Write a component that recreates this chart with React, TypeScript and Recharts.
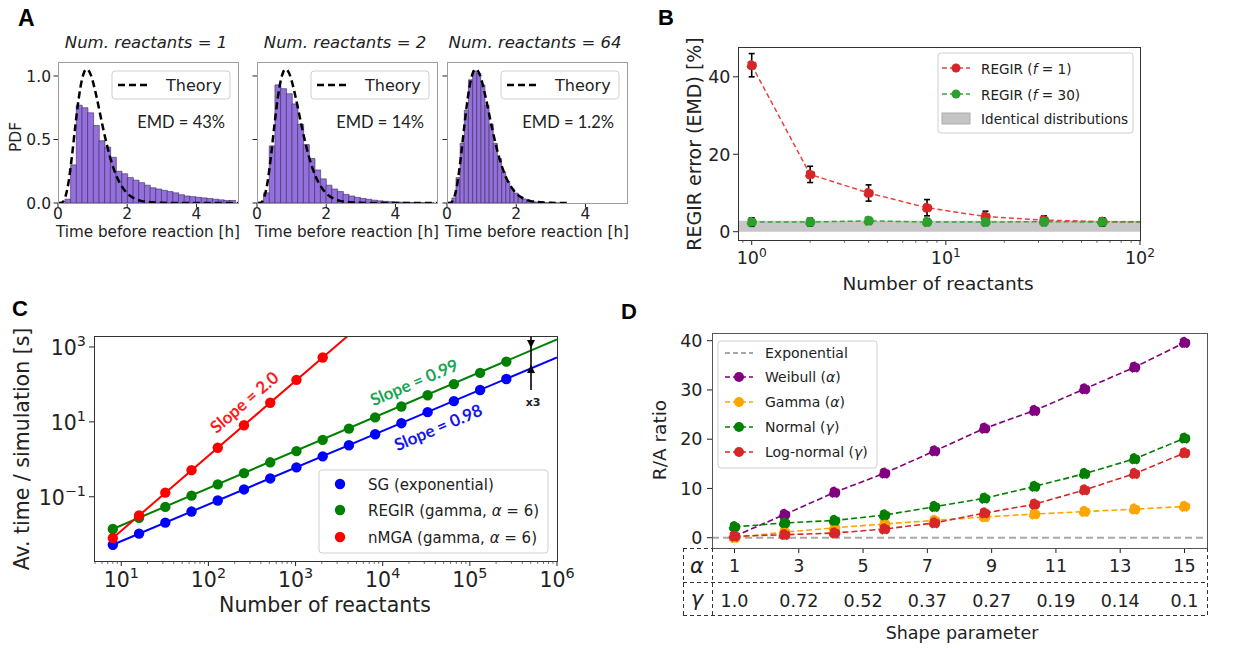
import React from "react";
import {
  BarChart,
  Bar,
  LineChart,
  Line,
  ScatterChart,
  Scatter,
  XAxis,
  YAxis,
  ErrorBar,
  ReferenceArea,
  ReferenceLine,
} from "recharts";

// ---------- Panel A: histograms of waiting times ----------
const binsN1 = [0.282, 0.446, 0.61, 0.774, 0.938, 1.102, 1.266, 1.43, 1.594, 1.758, 1.922, 2.086, 2.25, 2.414, 2.578, 2.742, 2.906, 3.07, 3.234, 3.398, 3.562, 3.726, 3.89, 4.054, 4.218, 4.382, 4.546, 4.71, 4.874, 5.038];
const pdfN1 = [0.03, 0.3, 0.77, 0.75, 0.71, 0.61, 0.49, 0.44, 0.36, 0.25, 0.23, 0.2, 0.18, 0.16, 0.14, 0.12, 0.11, 0.1, 0.09, 0.08, 0.065, 0.055, 0.05, 0.045, 0.04, 0.035, 0.03, 0.025, 0.02, 0.02];
const binsN2 = [0.272, 0.436, 0.6, 0.764, 0.928, 1.092, 1.256, 1.42, 1.584, 1.748, 1.912, 2.076, 2.24, 2.404, 2.568, 2.732, 2.896, 3.06, 3.224, 3.388, 3.552, 3.716, 3.88, 4.044, 4.208, 4.372, 4.536, 4.7, 4.864, 5.028];
const pdfN2 = [0.08, 0.45, 0.93, 0.9, 0.86, 0.78, 0.62, 0.46, 0.35, 0.26, 0.19, 0.14, 0.11, 0.09, 0.068, 0.055, 0.044, 0.036, 0.029, 0.022, 0.017, 0.013, 0.01, 0.008, 0.006, 0.005, 0.004, 0.003, 0.002, 0.002];
const binsN64 = [0.2, 0.32, 0.44, 0.56, 0.68, 0.8, 0.92, 1.04, 1.16, 1.28, 1.4, 1.52, 1.64, 1.76, 1.88, 2.0, 2.12, 2.24, 2.36, 2.48, 2.6, 2.72, 2.84, 2.96, 3.08, 3.2, 3.32];
const pdfN64 = [0.04, 0.2, 0.47, 0.73, 0.97, 1.04, 1.02, 0.93, 0.77, 0.62, 0.47, 0.35, 0.245, 0.17, 0.115, 0.078, 0.05, 0.032, 0.02, 0.013, 0.008, 0.005, 0.003, 0.002, 0.001, 0.0006, 0.0004];
const theoryT = [0, 0.1, 0.2, 0.3, 0.4, 0.5, 0.6, 0.65, 0.7, 0.75, 0.8, 0.85, 0.9, 0.95, 1.0, 1.1, 1.2, 1.3, 1.4, 1.5, 1.6, 1.7, 1.8, 1.9, 2.0, 2.2, 2.4, 2.6, 2.8, 3.0, 3.5, 4.0, 4.5, 5.0, 5.2];
const theoryPdf = [0, 0.002, 0.038, 0.156, 0.361, 0.605, 0.826, 0.913, 0.98, 1.025, 1.049, 1.052, 1.037, 1.007, 0.964, 0.852, 0.723, 0.592, 0.471, 0.364, 0.276, 0.205, 0.15, 0.108, 0.076, 0.037, 0.017, 0.008, 0.003, 0.0014, 0.0002, 0, 0, 0, 0];
const histTitles = ["Num. reactants = 1", "Num. reactants = 2", "Num. reactants = 64"];
const emdLabels = ["EMD = 43%", "EMD = 14%", "EMD = 1.2%"];

// ---------- Panel B: REGIR error vs number of reactants ----------
const reactantsB = [1, 2, 4, 8, 16, 32, 64, 128];
const regirF1 = [43, 14.8, 10, 6.2, 3.9, 3.0, 2.6, 2.6];
const regirF1Err = [3, 2.1, 2.1, 2.1, 1.4, 1.1, 1.0, null];
const regirF30 = [2.5, 2.5, 2.8, 2.5, 2.5, 2.6, 2.5, 2.5];
const regirF30Err = [1.1, 1.0, 0.9, 0.9, 0.9, 1.0, 1.0, null];
const identicalBand = [0, 2.8];

// ---------- Panel C: run time scaling ----------
const reactantsC = [8, 16, 32, 64, 128, 256, 512, 1024, 2048, 4096, 8192, 16384, 32768, 65536, 131072, 262144];
const timeSG = [0.00525, 0.0104, 0.0204, 0.0403, 0.0794, 0.157, 0.309, 0.61, 1.2, 2.37, 4.68, 9.23, 18.2, 35.9, 70.8, 140];
const timeREGIR = [0.0138, 0.0275, 0.0537, 0.107, 0.214, 0.427, 0.832, 1.66, 3.31, 6.61, 13.2, 25.7, 51.3, 102, 204, 407];
const reactantsNMGA = [8, 16, 32, 64, 128, 256, 512, 1024, 2048];
const timeNMGA = [0.0079, 0.0316, 0.129, 0.513, 2.04, 8.13, 32.4, 132, 525];
const fitSGx = [8, 1000000];
const fitSGy = [0.00525, 525];
const fitREGIRx = [8, 1000000];
const fitREGIRy = [0.0138, 1600];
const fitNMGAx = [8, 3963];
const fitNMGAy = [0.0079, 1963];

// ---------- Panel D: R/A ratio vs shape parameter ----------
const shapeX = [1, 2.556, 4.111, 5.667, 7.222, 8.778, 10.333, 11.889, 13.444, 15];
const weibull = [0.3, 4.7, 9.2, 13.1, 17.6, 22.2, 25.8, 30.2, 34.6, 39.6];
const gammaR = [0.0, 1.15, 2.0, 2.8, 3.5, 4.2, 4.8, 5.3, 5.8, 6.35];
const normalR = [2.2, 3.0, 3.5, 4.6, 6.3, 8.0, 10.4, 13.0, 16.0, 20.2];
const lognormalR = [0.3, 0.6, 0.95, 1.75, 3.0, 5.0, 6.8, 9.7, 13.0, 17.2];
const alphaTicks = [1, 3, 5, 7, 9, 11, 13, 15];
const gammaTicks = ["1.0", "0.72", "0.52", "0.37", "0.27", "0.19", "0.14", "0.1"];

const INK = "#222";
const DJ = "'DejaVu Sans', Verdana, sans-serif";
const ARIAL = "'Liberation Sans', Arial, sans-serif";
const CAL = "Lato, 'Open Sans', sans-serif";

const isDecade = (v: number) => {
  const l = Math.log10(v);
  return Math.abs(l - Math.round(l)) < 1e-6;
};
const expOf = (v: number) => {
  const e = Math.round(Math.log10(v));
  return e < 0 ? `\u2212${-e}` : `${e}`;
};
const pow10 = (v: number, fs: number) => [
  <tspan key="b">10</tspan>,
  <tspan key="e" dy={-fs * 0.42} fontSize={fs * 0.7}>
    {expOf(v)}
  </tspan>,
];

// log axis tick positions (major + minor)
function logTicks(lo: number, hi: number) {
  const out: number[] = [];
  for (let e = Math.floor(Math.log10(lo)); e <= Math.ceil(Math.log10(hi)); e++) {
    for (let m = 1; m < 10; m++) {
      const v = m * Math.pow(10, e);
      if (v >= lo * 0.999 && v <= hi * 1.001) out.push(v);
    }
  }
  return out;
}

type BT = { fs: number; base: number; len?: number; log?: boolean };
const bottomTick = (o: BT) => (p: any) => {
  const { x, y, payload } = p;
  const v = payload.value as number;
  const minor = o.log ? !isDecade(v) : false;
  const len = minor ? 2.8 : o.len ?? 5;
  return (
    <g>
      <line x1={x} x2={x} y1={y} y2={y + len} stroke={INK} strokeWidth={minor ? 0.7 : 1} />
      {!minor && (
        <text x={x} y={y + o.base} textAnchor="middle" fontSize={o.fs} fontFamily={DJ} fill={INK}>
          {o.log ? pow10(v, o.fs) : String(v)}
        </text>
      )}
    </g>
  );
};

type LT = { fs: number; gap: number; len: number; dy: number; fmt?: ((v: number) => any) | null };
const leftTick = (o: LT) => (p: any) => {
  const { x, y, payload } = p;
  const v = payload.value as number;
  return (
    <g>
      <line x1={x - o.len} x2={x} y1={y} y2={y} stroke={INK} strokeWidth={1} />
      {o.fmt && (
        <text x={x - o.len - o.gap} y={y + o.dy} textAnchor="end" fontSize={o.fs} fontFamily={DJ} fill={INK}>
          {o.fmt(v)}
        </text>
      )}
    </g>
  );
};

const tickAX = bottomTick({ fs: 15.5, base: 16, len: 4.5 });
const tickAY = leftTick({ fs: 15.5, gap: 2.5, len: 4.5, dy: 5.7, fmt: (v) => v.toFixed(1) });
const tickAYBlank = leftTick({ fs: 15.5, gap: 2.5, len: 4.5, dy: 5.7, fmt: null });
const tickBX = bottomTick({ fs: 17.5, base: 24, log: true });
const tickBY = leftTick({ fs: 17.5, gap: 2.5, len: 5, dy: 6.5, fmt: (v) => String(v) });
const tickCX = bottomTick({ fs: 20.5, base: 26, log: true });
const tickCY = leftTick({ fs: 20.5, gap: 3, len: 5, dy: 8, fmt: (v) => pow10(v, 20.5) });
const tickDY = leftTick({ fs: 17.5, gap: 4.5, len: 5, dy: 6.3, fmt: (v) => String(v) });
const tickDX = (p: any) => {
  const { x, y, payload } = p;
  const i = alphaTicks.indexOf(payload.value);
  return (
    <g>
      <line x1={x} x2={x} y1={y} y2={y + 5} stroke={INK} strokeWidth={1} />
      <text x={x} y={y + 23.7} textAnchor="middle" fontSize={17.5} fontFamily={DJ} fill={INK}>
        {payload.value}
      </text>
      <text x={x} y={y + 58.7} textAnchor="middle" fontSize={17.5} fontFamily={DJ} fill={INK}>
        {gammaTicks[i]}
      </text>
    </g>
  );
};

const axisOff = { axisLine: false, tickLine: false, tickSize: 0, tickMargin: 0, interval: 0 as const };

// ---------- Panel A ----------
const A_X0 = [58, 257, 447];
const A_TOP = 62;
const A_W = 180;
const A_H = 141;
const A_DOMX: [number, number] = [0, 5.2];
const A_DOMY: [number, number] = [0, 1.11];

function HistPanel({ x0, bins, pdf, theoryEnd, yLabels }: { x0: number; bins: number[]; pdf: number[]; theoryEnd: number; yLabels: boolean }) {
  const L = 45, T = 4, R = 4, B = 26;
  const data = bins.map((x, i) => ({ x, h: pdf[i] }));
  const curve = theoryT.map((t, i) => ({ t, p: theoryPdf[i] })).filter((d) => d.t <= theoryEnd);
  const w = A_W + L + R;
  const h = A_H + T + B;
  return (
    <>
      <div style={{ position: "absolute", left: x0 - L, top: A_TOP - T }}>
        <BarChart width={w} height={h} data={data} margin={{ top: T, right: R, left: 0, bottom: 0 }} barCategoryGap={0} barGap={0}>
          <XAxis type="number" dataKey="x" domain={A_DOMX} ticks={[0, 2, 4]} allowDataOverflow height={B} {...axisOff} tick={tickAX} />
          <YAxis type="number" domain={A_DOMY} ticks={[0, 0.5, 1]} allowDataOverflow width={L} {...axisOff} tick={yLabels ? tickAY : tickAYBlank} />
          <Bar dataKey="h" fill="#9370db" stroke="#3b2a5c" strokeWidth={0.6} isAnimationActive={false} />
        </BarChart>
      </div>
      <div style={{ position: "absolute", left: x0 - L, top: A_TOP - T }}>
        <LineChart width={w} height={h} data={curve} margin={{ top: T, right: R, left: L, bottom: B }}>
          <XAxis type="number" dataKey="t" domain={A_DOMX} allowDataOverflow hide />
          <YAxis type="number" domain={A_DOMY} allowDataOverflow hide />
          <Line dataKey="p" type="monotone" stroke="#000" strokeWidth={2.5} strokeDasharray="7 4" dot={false} isAnimationActive={false} />
        </LineChart>
      </div>
    </>
  );
}

// ---------- Panel B ----------
function PanelB() {
  const L = 50, T = 4, R = 24, B = 32;
  const data = reactantsB.map((x, i) => ({ x, f1: regirF1[i], f1Err: regirF1Err[i], f30: regirF30[i], f30Err: regirF30Err[i] }));
  return (
    <div style={{ position: "absolute", left: 738 - L, top: 47 - T }}>
      <LineChart width={402 + L + R} height={193 + T + B} data={data} margin={{ top: T, right: R, left: 0, bottom: 0 }}>
        <XAxis type="number" dataKey="x" scale="log" domain={[0.85, 100]} allowDataOverflow ticks={logTicks(0.85, 100)} height={B} {...axisOff} tick={tickBX} />
        <YAxis type="number" domain={[-2.14, 47.7]} allowDataOverflow ticks={[0, 20, 40]} width={L} {...axisOff} tick={tickBY} />
        <ReferenceArea x1={0.85} x2={100} y1={identicalBand[0]} y2={identicalBand[1]} fill="#bdbdbd" fillOpacity={0.85} stroke="none" />
        <Line dataKey="f1" stroke="#e8413f" strokeWidth={1.5} strokeDasharray="5 3" dot={{ r: 4.5, fill: "#d62728", stroke: "#d62728" }} activeDot={false} isAnimationActive={false}>
          <ErrorBar dataKey="f1Err" width={3} stroke="#000" strokeWidth={1.6} direction="y" />
        </Line>
        <Line dataKey="f30" stroke="#3aa43a" strokeWidth={1.5} strokeDasharray="5 3" dot={{ r: 4.5, fill: "#2ca02c", stroke: "#2ca02c" }} activeDot={false} isAnimationActive={false}>
          <ErrorBar dataKey="f30Err" width={3} stroke="#000" strokeWidth={1.6} direction="y" />
        </Line>
      </LineChart>
    </div>
  );
}

// ---------- Panel C ----------
const noShape = () => <g />;
const dotShape = (color: string) => (p: any) => <circle cx={p.cx} cy={p.cy} r={5.2} fill={color} />;

function PanelC() {
  const L = 70, T = 4, R = 24, B = 32;
  const pts = (xs: number[], ys: number[]) => xs.map((x, i) => ({ x, y: ys[i] }));
  return (
    <div style={{ position: "absolute", left: 94 - L, top: 336 - T }}>
      <ScatterChart width={463 + L + R} height={225 + T + B} margin={{ top: T, right: R, left: 0, bottom: 0 }}>
        <XAxis type="number" dataKey="x" scale="log" domain={[4.864, 1000000]} allowDataOverflow ticks={logTicks(4.864, 1000000)} height={B} {...axisOff} tick={tickCX} />
        <YAxis type="number" dataKey="y" scale="log" domain={[0.001928, 1963]} allowDataOverflow ticks={[0.1, 10, 1000]} width={L} {...axisOff} tick={tickCY} />
        <Scatter data={pts(fitSGx, fitSGy)} fill="#0000ff" line={{ stroke: "#0000ff", strokeWidth: 2 }} shape={noShape} isAnimationActive={false} />
        <Scatter data={pts(fitREGIRx, fitREGIRy)} fill="#008000" line={{ stroke: "#008000", strokeWidth: 2 }} shape={noShape} isAnimationActive={false} />
        <Scatter data={pts(fitNMGAx, fitNMGAy)} fill="#ff0000" line={{ stroke: "#ff0000", strokeWidth: 2 }} shape={noShape} isAnimationActive={false} />
        <Scatter data={pts(reactantsC, timeSG)} fill="#0000ff" shape={dotShape("#0000ff")} isAnimationActive={false} />
        <Scatter data={pts(reactantsC, timeREGIR)} fill="#008000" shape={dotShape("#008000")} isAnimationActive={false} />
        <Scatter data={pts(reactantsNMGA, timeNMGA)} fill="#ff0000" shape={dotShape("#ff0000")} isAnimationActive={false} />
      </ScatterChart>
    </div>
  );
}

// ---------- Panel D ----------
const D_SERIES = [
  { key: "weibull", color: "#800080", label: "Weibull", sym: "\u03b1" },
  { key: "gamma", color: "#ffa500", label: "Gamma", sym: "\u03b1" },
  { key: "normal", color: "#008000", label: "Normal", sym: "\u03b3" },
  { key: "lognormal", color: "#d62728", label: "Log-normal", sym: "\u03b3" },
];

function PanelD() {
  const L = 40, T = 4, R = 14, B = 64;
  const data = shapeX.map((x, i) => ({ x, weibull: weibull[i], gamma: gammaR[i], normal: normalR[i], lognormal: lognormalR[i] }));
  return (
    <div style={{ position: "absolute", left: 712 - L, top: 333 - T }}>
      <LineChart width={495 + L + R} height={215 + T + B} data={data} margin={{ top: T, right: R, left: 0, bottom: 0 }}>
        <XAxis type="number" dataKey="x" domain={[0.3, 15.7]} allowDataOverflow ticks={alphaTicks} height={B} {...axisOff} tick={tickDX} />
        <YAxis type="number" domain={[-2.09, 41.56]} allowDataOverflow ticks={[0, 10, 20, 30, 40]} width={L} {...axisOff} tick={tickDY} />
        <ReferenceLine y={0} stroke="#a8a8a8" strokeWidth={2} strokeDasharray="7 4" />
        {D_SERIES.map((s) => (
          <Line key={s.key} dataKey={s.key} stroke={s.color} strokeWidth={1.6} strokeDasharray="6 3" dot={{ r: 5, fill: s.color, stroke: s.color }} activeDot={false} isAnimationActive={false} />
        ))}
      </LineChart>
    </div>
  );
}

// ---------- text, frames, legends ----------
function Overlay() {
  const t = { fontFamily: DJ, fill: INK };
  const dashed = { stroke: "#333", strokeWidth: 1, strokeDasharray: "4 3" };
  const legendBox = { fill: "#fff", fillOpacity: 0.85, stroke: "#cfcfcf", strokeWidth: 1 };
  return (
    <svg width={1235} height={648} style={{ position: "absolute", left: 0, top: 0, pointerEvents: "none" }}>
      {/* panel letters */}
      <text x={18} y={26} fontFamily={ARIAL} fontWeight="bold" fontSize={23} fill="#000">A</text>
      <text x={658} y={25} fontFamily={ARIAL} fontWeight="bold" fontSize={22} fill="#000">B</text>
      <text x={12} y={316} fontFamily={ARIAL} fontWeight="bold" fontSize={22} fill="#000">C</text>
      <text x={621} y={319} fontFamily={ARIAL} fontWeight="bold" fontSize={22} fill="#000">D</text>

      {/* Panel A */}
      {A_X0.map((x0, i) => (
        <g key={i}>
          <rect x={x0 + 0.5} y={A_TOP + 0.5} width={A_W} height={A_H} fill="none" stroke="#9c9c9c" strokeWidth={1} />
          <text x={x0 + 88} y={48} textAnchor="middle" fontSize={16.5} fontStyle="italic" {...t}>{histTitles[i]}</text>
          <text x={x0 + 90} y={237} textAnchor="middle" fontSize={15.2} {...t}>Time before reaction [h]</text>
          <rect x={x0 + 54} y={71} width={118} height={28} rx={3} {...legendBox} />
          <line x1={x0 + 60} x2={x0 + 93} y1={85} y2={85} stroke="#000" strokeWidth={2.5} strokeDasharray="7 4" />
          <text x={x0 + 108} y={91} fontSize={16} {...t}>Theory</text>
          <text x={x0 + 167} y={128} textAnchor="end" fontSize={16.5} fontFamily={CAL} fill={INK}>{emdLabels[i]}</text>
        </g>
      ))}
      <text transform="translate(20.5,137) rotate(-90)" textAnchor="middle" fontSize={15.5} {...t}>PDF</text>

      {/* Panel B */}
      <rect x={738.5} y={47.5} width={402} height={193} fill="none" stroke="#333" strokeWidth={1} />
      <rect x={938} y={53} width={195} height={80} rx={3} {...legendBox} />
      <line x1={942} x2={970} y1={68} y2={68} stroke="#e8413f" strokeWidth={1.5} strokeDasharray="5 3" />
      <circle cx={956} cy={68} r={4.5} fill="#d62728" />
      <text x={981} y={73.5} fontSize={13.6} {...t}>REGIR (<tspan fontStyle="italic">f</tspan> = 1)</text>
      <line x1={942} x2={970} y1={94} y2={94} stroke="#3aa43a" strokeWidth={1.5} strokeDasharray="5 3" />
      <circle cx={956} cy={94} r={4.5} fill="#2ca02c" />
      <text x={981} y={99.5} fontSize={13.6} {...t}>REGIR (<tspan fontStyle="italic">f</tspan> = 30)</text>
      <rect x={942} y={113} width={28} height={11} fill="#c4c4c4" stroke="#adadad" />
      <text x={981} y={123.5} fontSize={13.6} {...t}>Identical distributions</text>
      <text transform="translate(701,144) rotate(-90)" textAnchor="middle" fontSize={19} {...t}>REGIR error (EMD) [%]</text>
      <text x={938} y={290} textAnchor="middle" fontSize={18.5} {...t}>Number of reactants</text>

      {/* Panel C */}
      <rect x={94.5} y={336.5} width={463} height={225} fill="none" stroke="#333" strokeWidth={1} />
      <rect x={319} y={470} width={229} height={83} rx={3} {...legendBox} />
      <circle cx={340} cy={484} r={5.2} fill="#0000ff" />
      <text x={368} y={489.5} fontSize={15} {...t}>SG (exponential)</text>
      <circle cx={340} cy={510} r={5.2} fill="#008000" />
      <text x={368} y={515.5} fontSize={15} {...t}>REGIR (gamma, <tspan fontStyle="italic">{"\u03b1"}</tspan> = 6)</text>
      <circle cx={340} cy={537} r={5.2} fill="#ff0000" />
      <text x={368} y={542.5} fontSize={15} {...t}>nMGA (gamma, <tspan fontStyle="italic">{"\u03b1"}</tspan> = 6)</text>
      <text transform="translate(244,402) rotate(-40.7)" textAnchor="middle" dominantBaseline="central" fontSize={17} fontWeight="bold" fontFamily={CAL} fill="#ff1a1a">Slope = 2.0</text>
      <text transform="translate(414,382) rotate(-23.1)" textAnchor="middle" dominantBaseline="central" fontSize={17} fontWeight="bold" fontFamily={CAL} fill="#1aa552">Slope = 0.99</text>
      <text transform="translate(438,427) rotate(-22.9)" textAnchor="middle" dominantBaseline="central" fontSize={17} fontWeight="bold" fontFamily={CAL} fill="#1414f0">Slope = 0.98</text>
      <line x1={531} x2={531} y1={337} y2={390} stroke="#000" strokeWidth={1.6} />
      <polygon points="531,348 527,340 535,340" fill="#000" />
      <polygon points="531,365 527,373 535,373" fill="#000" />
      <text x={533} y={406} textAnchor="middle" fontSize={11} fontWeight="bold" {...t}>x3</text>
      <text transform="translate(29,449) rotate(-90)" textAnchor="middle" fontSize={20.5} {...t}>Av. time / simulation [s]</text>
      <text x={325} y={611.5} textAnchor="middle" fontSize={20.5} {...t}>Number of reactants</text>

      {/* Panel D */}
      <rect x={712.5} y={333.5} width={495} height={215} fill="none" stroke="#555" strokeWidth={1} />
      <rect x={718} y={341} width={159} height={127} rx={3} {...legendBox} />
      <line x1={725} x2={753} y1={353} y2={353} stroke="#a8a8a8" strokeWidth={2} strokeDasharray="5 3" />
      <text x={765} y={358} fontSize={14} {...t}>Exponential</text>
      {D_SERIES.map((s, i) => {
        const yy = 377 + i * 25;
        return (
          <g key={s.key}>
            <line x1={725} x2={753} y1={yy} y2={yy} stroke={s.color} strokeWidth={1.6} strokeDasharray="5 3" />
            <circle cx={739} cy={yy} r={5} fill={s.color} />
            <text x={765} y={yy + 5} fontSize={14} {...t}>
              {s.label} (<tspan fontStyle="italic">{s.sym}</tspan>)
            </text>
          </g>
        );
      })}
      <line x1={683} x2={712} y1={548.5} y2={548.5} {...dashed} />
      <line x1={683.5} x2={683.5} y1={548} y2={616} {...dashed} />
      <line x1={712.5} x2={712.5} y1={548} y2={616} {...dashed} />
      <line x1={683} x2={1207} y1={582.5} y2={582.5} {...dashed} />
      <line x1={683} x2={1207} y1={615.5} y2={615.5} {...dashed} />
      <line x1={1207.5} x2={1207.5} y1={548} y2={616} {...dashed} />
      <text x={697} y={573} textAnchor="middle" fontSize={21} fontStyle="italic" {...t}>{"\u03b1"}</text>
      <text x={697} y={606} textAnchor="middle" fontSize={21} fontStyle="italic" {...t}>{"\u03b3"}</text>
      <text transform="translate(666,440) rotate(-90)" textAnchor="middle" fontSize={18.5} {...t}>R/A ratio</text>
      <text x={962} y={639} textAnchor="middle" fontSize={17.5} {...t}>Shape parameter</text>
    </svg>
  );
}

export default function App() {
  return (
    <div style={{ position: "relative", width: 1235, height: 648, background: "#fff", overflow: "hidden" }}>
      <style>{"body{margin:0}"}</style>
      <HistPanel x0={A_X0[0]} bins={binsN1} pdf={pdfN1} theoryEnd={5.2} yLabels />
      <HistPanel x0={A_X0[1]} bins={binsN2} pdf={pdfN2} theoryEnd={5.2} yLabels={false} />
      <HistPanel x0={A_X0[2]} bins={binsN64} pdf={pdfN64} theoryEnd={3.5} yLabels={false} />
      <PanelB />
      <PanelC />
      <PanelD />
      <Overlay />
    </div>
  );
}
